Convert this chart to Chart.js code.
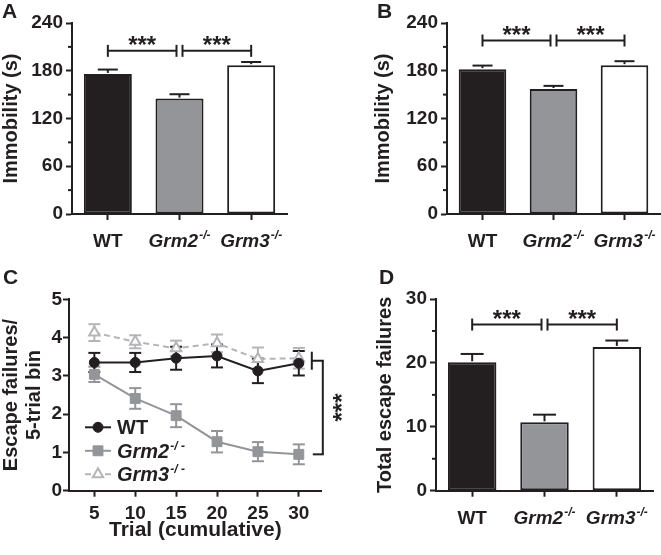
<!DOCTYPE html>
<html>
<head>
<meta charset="utf-8">
<script src="https://cdn.jsdelivr.net/npm/chart.js@4.4.1/dist/chart.umd.min.js"></script>
<style>
	html, body { margin: 0; padding: 0; background: #fff; }
	#fig { position: relative; width: 661px; height: 555px; overflow: hidden; font-family: "Liberation Sans", Arial, sans-serif; }
	#fig canvas { position: absolute; }
	.tag { position: absolute; font-weight: bold; font-size: 21px; line-height: 21px; color: #231f20; }
</style>
</head>
<body>
<div id="fig">
	<canvas id="panelA" width="330" height="278" style="left:0;top:0"></canvas>
	<canvas id="panelB" width="331" height="278" style="left:330px;top:0"></canvas>
	<canvas id="panelC" width="360" height="277" style="left:0;top:278px"></canvas>
	<canvas id="panelD" width="331" height="277" style="left:330px;top:278px"></canvas>
	<div class="tag" style="left:2px;top:0">A</div>
	<div class="tag" style="left:377px;top:0">B</div>
	<div class="tag" style="left:3px;top:266px">C</div>
	<div class="tag" style="left:379px;top:266px">D</div>
</div>
<script>
(function (Chart) {
	'use strict';

	// bar panels
	var groups = ['WT', 'Grm2', 'Grm3'];
	var immobilityA = [176, 145, 187];
	var immobilityAErr = [5.5, 5.5, 4];
	var immobilityB = [182, 157, 187];
	var immobilityBErr = [4.5, 4, 5];
	var totalFailures = [20.1, 10.7, 22.5];
	var totalFailuresErr = [1.3, 1.2, 1.0];
	var immobilityTicks = [0, 60, 120, 180, 240];
	var immobilityMinor = [30, 90, 150, 210];
	var totalTicks = [0, 10, 20, 30];
	var totalMinor = [5, 15, 25];
	var comparisons = [[0, 1], [1, 2]];

	// line panel
	var trials = [5, 10, 15, 20, 25, 30];
	var wtBins = [3.35, 3.35, 3.46, 3.52, 3.13, 3.33];
	var wtBinsErr = [0.25, 0.25, 0.3, 0.3, 0.32, 0.32];
	var grm2Bins = [3.04, 2.41, 1.96, 1.28, 1.02, 0.95];
	var grm2BinsErr = [0.2, 0.27, 0.3, 0.28, 0.25, 0.26];
	var grm3Bins = [4.13, 3.89, 3.72, 3.85, 3.44, 3.46];
	var grm3BinsErr = [0.22, 0.17, 0.2, 0.23, 0.3, 0.27];
	var binTicks = [0, 1, 2, 3, 4, 5];

	var INK = '#231f20';
	var GRAY = '#939598';
	var LIGHT = '#b4b5b8';
	var FAMILY = '"Liberation Sans", Arial, sans-serif';
	var barFills = [INK, GRAY, '#ffffff'];

	function font(size, style) {
		return (style ? style + ' ' : '') + 'bold ' + size + 'px ' + FAMILY;
	}

	function line(ctx, x1, y1, x2, y2) {
		ctx.beginPath();
		ctx.moveTo(x1, y1);
		ctx.lineTo(x2, y2);
		ctx.stroke();
	}

	// "WT" upright, knockouts italic with a raised -/-
	function drawGenotype(ctx, name, x, y, size, align, sup) {
		var italic = name !== 'WT',
			supSize = Math.round(size * 0.62),
			w1, w2 = 0, x0;

		ctx.save();
		ctx.textAlign = 'left';
		ctx.textBaseline = 'alphabetic';
		ctx.fillStyle = INK;
		ctx.font = font(size, italic ? 'italic' : '');
		w1 = ctx.measureText(name).width;
		if (italic) {
			ctx.font = font(supSize, 'italic');
			w2 = ctx.measureText(sup).width + 1;
		}
		x0 = align === 'center' ? x - (w1 + w2) / 2 : x;
		ctx.font = font(size, italic ? 'italic' : '');
		ctx.fillText(name, x0, y);
		if (italic) {
			ctx.font = font(supSize, 'italic');
			ctx.fillText(sup, x0 + w1 + 1, y - size * 0.4);
		}
		ctx.restore();
	}

	function stars(ctx, x, y, rotate) {
		ctx.save();
		ctx.translate(x, y);
		if (rotate) {
			ctx.rotate(-Math.PI / 2);
		}
		ctx.font = font(24);
		ctx.fillStyle = INK;
		ctx.textAlign = 'center';
		ctx.textBaseline = 'alphabetic';
		ctx.fillText('***', 0, 12);
		ctx.restore();
	}

	function fixedTicks(list) {
		return function (scale) {
			scale.ticks = list.map(function (v) { return { value: v }; });
		};
	}

	function yAxis(spec) {
		return {
			min: spec.ticks[0],
			max: spec.ticks[spec.ticks.length - 1],
			afterBuildTicks: fixedTicks(spec.ticks),
			afterFit: function (s) { s.width = spec.width; },
			grid: { drawOnChartArea: false, tickLength: 6, tickWidth: 2, tickColor: INK },
			border: { display: true, color: INK, width: 2 },
			ticks: { color: INK, padding: spec.tickPad, font: { family: FAMILY, size: 19, weight: 'bold' } },
			title: {
				display: true,
				text: spec.title,
				color: INK,
				padding: 0,
				font: { family: FAMILY, size: 20, weight: 'bold', lineHeight: 1.15 }
			}
		};
	}

	function barDecor(spec) {
		return {
			id: 'barDecor',
			afterDatasetsDraw: function (chart) {
				var ctx = chart.ctx,
					y = chart.scales.y,
					area = chart.chartArea,
					bars = chart.getDatasetMeta(0).data;

				ctx.save();
				ctx.strokeStyle = INK;
				ctx.lineWidth = 2;

				bars.forEach(function (bar, i) {
					var top = y.getPixelForValue(spec.values[i] + spec.errors[i]);
					line(ctx, bar.x, bar.y - 1, bar.x, top);
					line(ctx, bar.x - spec.cap / 2, top, bar.x + spec.cap / 2, top);
				});

				spec.minor.forEach(function (v) {
					var p = y.getPixelForValue(v);
					line(ctx, area.left - 4, p, area.left, p);
				});

				var level = y.getPixelForValue(spec.sigLevel);
				comparisons.forEach(function (pair) {
					var x1 = bars[pair[0]].x + (pair[0] === 1 ? 3 : 0),
						x2 = bars[pair[1]].x - (pair[1] === 1 ? 3 : 0);
					line(ctx, x1, level, x2, level);
					line(ctx, x1, level - 6, x1, level + 6);
					line(ctx, x2, level - 6, x2, level + 6);
					stars(ctx, (x1 + x2) / 2, level - 10, false);
				});
				ctx.restore();

				bars.forEach(function (bar, i) {
					drawGenotype(ctx, groups[i], bar.x, area.bottom + 33, 19, 'center', '-/-');
				});
			}
		};
	}

	function barPanel(id, spec) {
		return new Chart(document.getElementById(id), {
			type: 'bar',
			data: {
				labels: groups,
				datasets: [{
					data: spec.values,
					backgroundColor: barFills,
					borderColor: INK,
					borderWidth: 2,
					borderSkipped: false,
					barPercentage: 0.67,
					categoryPercentage: 1
				}]
			},
			options: {
				responsive: false,
				animation: false,
				events: [],
				layout: { padding: spec.padding },
				plugins: { legend: { display: false }, tooltip: { enabled: false } },
				scales: {
					x: {
						afterFit: function (s) { s.height = spec.xHeight; },
						grid: { offset: false, drawOnChartArea: false, tickLength: 6, tickWidth: 2, tickColor: INK },
						border: { display: true, color: INK, width: 2 },
						ticks: { display: false }
					},
					y: yAxis(spec)
				}
			},
			plugins: [barDecor(spec)]
		});
	}

	barPanel('panelA', {
		values: immobilityA, errors: immobilityAErr, ticks: immobilityTicks, minor: immobilityMinor,
		title: 'Immobility (s)', sigLevel: 205, cap: 20, width: 72, tickPad: 3, xHeight: 64,
		padding: { left: 0, top: 23, right: 43, bottom: 0 }
	});

	barPanel('panelB', {
		values: immobilityB, errors: immobilityBErr, ticks: immobilityTicks, minor: immobilityMinor,
		title: 'Immobility (s)', sigLevel: 218, cap: 20, width: 75.5, tickPad: 3, xHeight: 64,
		padding: { left: 41.5, top: 23, right: 1, bottom: 0 }
	});

	barPanel('panelD', {
		values: totalFailures, errors: totalFailuresErr, ticks: totalTicks, minor: totalMinor,
		title: 'Total escape failures', sigLevel: 26, cap: 23, width: 62.5, tickPad: 3, xHeight: 64.3,
		padding: { left: 43.5, top: 21, right: 8, bottom: 0 }
	});

	// panel C: escape failures per 5-trial bin
	function points(ys) {
		return trials.map(function (t, i) { return { x: t, y: ys[i] }; });
	}

	var binErrors = [wtBinsErr, grm2BinsErr, grm3BinsErr];

	var lineDecor = {
		id: 'lineDecor',
		beforeDatasetsDraw: function (chart) {
			var ctx = chart.ctx, y = chart.scales.y;
			ctx.save();
			ctx.lineWidth = 2;
			for (var d = chart.data.datasets.length - 1; d >= 0; d--) {
				var ds = chart.data.datasets[d];
				ctx.strokeStyle = ds.borderColor;
				chart.getDatasetMeta(d).data.forEach(function (pt, i) {
					var hi = y.getPixelForValue(ds.data[i].y + binErrors[d][i]),
						lo = y.getPixelForValue(ds.data[i].y - binErrors[d][i]);
					line(ctx, pt.x, hi, pt.x, lo);
					line(ctx, pt.x - 6, hi, pt.x + 6, hi);
					line(ctx, pt.x - 6, lo, pt.x + 6, lo);
				});
			}
			ctx.restore();
		},
		afterDraw: function (chart) {
			var ctx = chart.ctx,
				x = chart.scales.x,
				y = chart.scales.y,
				area = chart.chartArea,
				n = trials.length - 1;

			ctx.save();
			// legend
			chart.data.datasets.forEach(function (ds, i) {
				var row = area.top + 128 + i * 23.5,
					left = area.left + 16;
				ctx.strokeStyle = ds.borderColor;
				ctx.lineWidth = 2;
				ctx.setLineDash(ds.borderDash || []);
				line(ctx, left, row, left + 26, row);
				ctx.setLineDash([]);
				ctx.fillStyle = ds.pointBackgroundColor;
				ctx.lineWidth = ds.pointBorderWidth || 1;
				Chart.helpers.drawPoint(ctx, {
					pointStyle: ds.pointStyle, radius: ds.pointRadius, rotation: 0, borderWidth: ds.pointBorderWidth || 1
				}, left + 13, row);
				drawGenotype(ctx, ds.label, left + 32, row + 7, 20, 'left', '-/ -');
			});

			// significance bracket
			var lastX = x.getPixelForValue(trials[n]),
				top = y.getPixelForValue((wtBins[n] + grm3Bins[n]) / 2),
				bottom = y.getPixelForValue(grm2Bins[n]);
			ctx.strokeStyle = INK;
			ctx.lineWidth = 2;
			line(ctx, lastX + 13, top - 9, lastX + 13, top + 9);
			line(ctx, lastX + 13, top, lastX + 25, top);
			line(ctx, lastX + 24, top, lastX + 24, bottom);
			line(ctx, lastX + 14, bottom, lastX + 25, bottom);
			stars(ctx, lastX + 39, (top + bottom) / 2, true);
			ctx.restore();
		}
	};

	new Chart(document.getElementById('panelC'), {
		type: 'line',
		data: {
			datasets: [{
				label: 'WT',
				data: points(wtBins),
				borderColor: INK,
				borderWidth: 2,
				pointStyle: 'circle',
				pointRadius: 5,
				pointBackgroundColor: INK,
				pointBorderColor: INK,
				pointBorderWidth: 1
			}, {
				label: 'Grm2',
				data: points(grm2Bins),
				borderColor: GRAY,
				borderWidth: 2,
				pointStyle: 'rect',
				pointRadius: 7,
				pointBackgroundColor: GRAY,
				pointBorderColor: GRAY,
				pointBorderWidth: 1
			}, {
				label: 'Grm3',
				data: points(grm3Bins),
				borderColor: LIGHT,
				borderWidth: 2,
				borderDash: [6, 4],
				pointStyle: 'triangle',
				pointRadius: 6,
				pointBackgroundColor: '#ffffff',
				pointBorderColor: LIGHT,
				pointBorderWidth: 2
			}]
		},
		options: {
			responsive: false,
			animation: false,
			events: [],
			layout: { padding: { left: 0, top: 21.3, right: 38.3, bottom: 0 } },
			plugins: { legend: { display: false }, tooltip: { enabled: false } },
			scales: {
				x: {
					type: 'linear',
					min: 1.9,
					max: 32.8,
					afterBuildTicks: fixedTicks(trials),
					afterFit: function (s) { s.height = 64.3; },
					grid: { drawOnChartArea: false, tickLength: 6, tickWidth: 2, tickColor: INK },
					border: { display: true, color: INK, width: 2 },
					ticks: { color: INK, padding: 6, maxRotation: 0, font: { family: FAMILY, size: 19, weight: 'bold' } },
					title: {
						display: true,
						text: 'Trial (cumulative)',
						color: INK,
						padding: { top: 0, bottom: 13 },
						font: { family: FAMILY, size: 21, weight: 'bold', lineHeight: 1.15 }
					}
				},
				y: yAxis({ ticks: binTicks, width: 69, tickPad: 1, title: ['Escape failures/', '5-trial bin'] })
			}
		},
		plugins: [lineDecor]
	});

}).call(this, this.Chart);
</script>
</body>
</html>
